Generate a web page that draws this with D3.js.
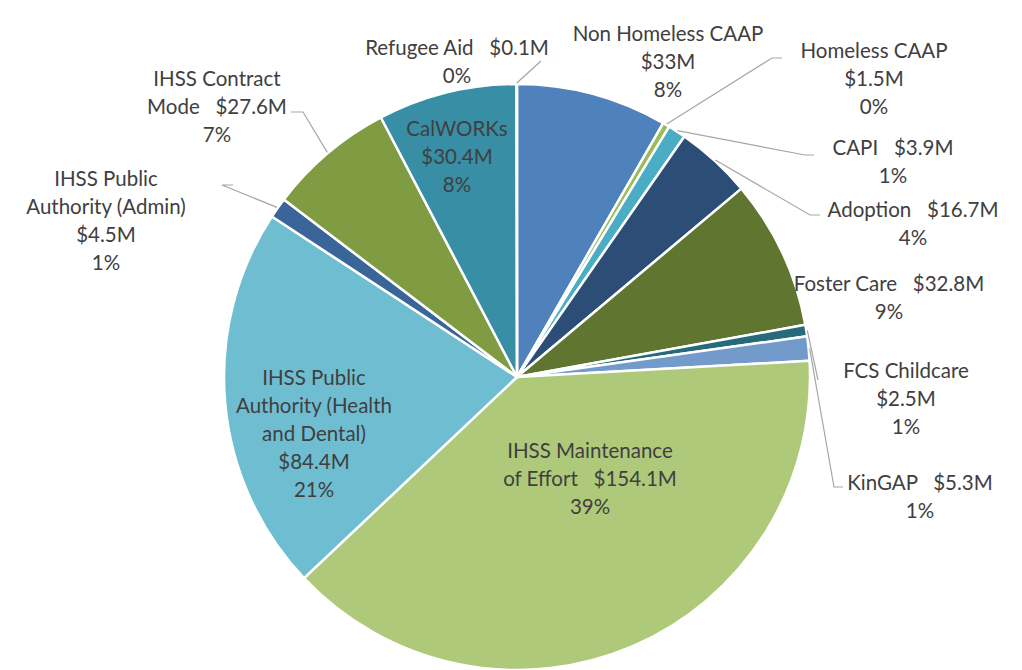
<!DOCTYPE html>
<html>
<head>
<meta charset="utf-8">
<script src="https://cdn.jsdelivr.net/npm/d3@7"></script>
<style>
  body { margin: 0; background: #fff; }
  text { font-family: Lato, "Open Sans", sans-serif; font-size: 20.5px; fill: #404040; white-space: pre; }
</style>
</head>
<body>
<div id="chart"></div>
<script>
// Chart size and pie geometry
const width = 1022;
const height = 670;
const cx = 517;
const cy = 377;
const radius = 293;

// Data (clockwise from 12 o'clock)
const categories = [
    'Non Homeless CAAP', 'Homeless CAAP', 'CAPI', 'Adoption', 'Foster Care',
    'FCS Childcare', 'KinGAP', 'IHSS Maintenance of Effort',
    'IHSS Public Authority (Health and Dental)', 'IHSS Public Authority (Admin)',
    'IHSS Contract Mode', 'CalWORKs', 'Refugee Aid'
];
const amounts = [33, 1.5, 3.9, 16.7, 32.8, 2.5, 5.3, 154.1, 84.4, 4.5, 27.6, 30.4, 0.1];
const amountLabels = ['$33M', '$1.5M', '$3.9M', '$16.7M', '$32.8M', '$2.5M', '$5.3M',
    '$154.1M', '$84.4M', '$4.5M', '$27.6M', '$30.4M', '$0.1M'];
const pctLabels = ['8%', '0%', '1%', '4%', '9%', '1%', '1%', '39%', '21%', '1%', '7%', '8%', '0%'];

// Label lines as Excel wrapped them
const labelLines = [
    ['Non Homeless CAAP', '$33M', '8%'],
    ['Homeless CAAP', '$1.5M', '0%'],
    ['CAPI   $3.9M', '1%'],
    ['Adoption   $16.7M', '4%'],
    ['Foster Care   $32.8M', '9%'],
    ['FCS Childcare', '$2.5M', '1%'],
    ['KinGAP   $5.3M', '1%'],
    ['IHSS Maintenance', 'of Effort   $154.1M', '39%'],
    ['IHSS Public', 'Authority (Health', 'and Dental)', '$84.4M', '21%'],
    ['IHSS Public', 'Authority (Admin)', '$4.5M', '1%'],
    ['IHSS Contract', 'Mode   $27.6M', '7%'],
    ['CalWORKs', '$30.4M', '8%'],
    ['Refugee Aid   $0.1M', '0%']
];

const colors = ['#4f81bd', '#9bbb59', '#4bacc6', '#2c4d75', '#5f7530', '#276a7c', '#729aca',
    '#afc97a', '#6fbdd1', '#3a6599', '#7f9c42', '#378ea5', '#8064a2'];

// Label placement: [centre x, first line y], and leader elbow points (null = no leader)
const labelPos = [
    [668, 33], [874, 50], [893, 147], [913, 209], [889, 283], [906, 370], [920, 482],
    [590, 450], [314, 377], [106, 178], [217, 78], [457, 128], [457, 47]
];
const leaders = [
    null,
    [[772, 58], [782, 58]],
    [[805, 155], [814, 155]],
    [[810, 215], [820, 215]],
    null,
    [[818, 380]],
    [[834, 487], [843, 487]],
    null, null,
    [[222, 185], [233, 185]],
    [[303, 112], [291, 112]],
    null,
    [[541, 61]]
];
const lineHeight = 28;

const svg = d3.select('#chart')
    .append('svg')
    .attr('width', width)
    .attr('height', height);

const pie = d3.pie().sort(null).value(d => d);
const arcs = pie(amounts);

const arc = d3.arc().innerRadius(0).outerRadius(radius);

const g = svg.append('g').attr('transform', `translate(${cx},${cy})`);

g.selectAll('path.slice')
    .data(arcs)
    .enter()
    .append('path')
    .attr('class', 'slice')
    .attr('d', arc)
    .attr('fill', (d, i) => colors[i])
    .attr('stroke', '#fff')
    .attr('stroke-width', 2.5)
    .attr('stroke-linejoin', 'round');

// Leader lines start at the slice edge, mid angle
const edgeArc = d3.arc().innerRadius(radius + 1).outerRadius(radius + 1);
arcs.forEach((d, i) => {
    if (!leaders[i]) return;
    const [sx, sy] = edgeArc.centroid(d);
    const pts = [[sx + cx, sy + cy]].concat(leaders[i]);
    svg.append('path')
        .attr('d', d3.line()(pts))
        .attr('fill', 'none')
        .attr('stroke', '#a6a6a6')
        .attr('stroke-width', 1.2);
});

// Data labels
labelLines.forEach((lines, i) => {
    const t = svg.append('text')
        .attr('text-anchor', 'middle')
        .attr('x', labelPos[i][0])
        .attr('y', labelPos[i][1])
        .attr('dominant-baseline', 'central');
    lines.forEach((ln, j) => {
        t.append('tspan')
            .attr('x', labelPos[i][0])
            .attr('dy', j === 0 ? 0 : lineHeight)
            .text(ln);
    });
});
</script>
</body>
</html>
